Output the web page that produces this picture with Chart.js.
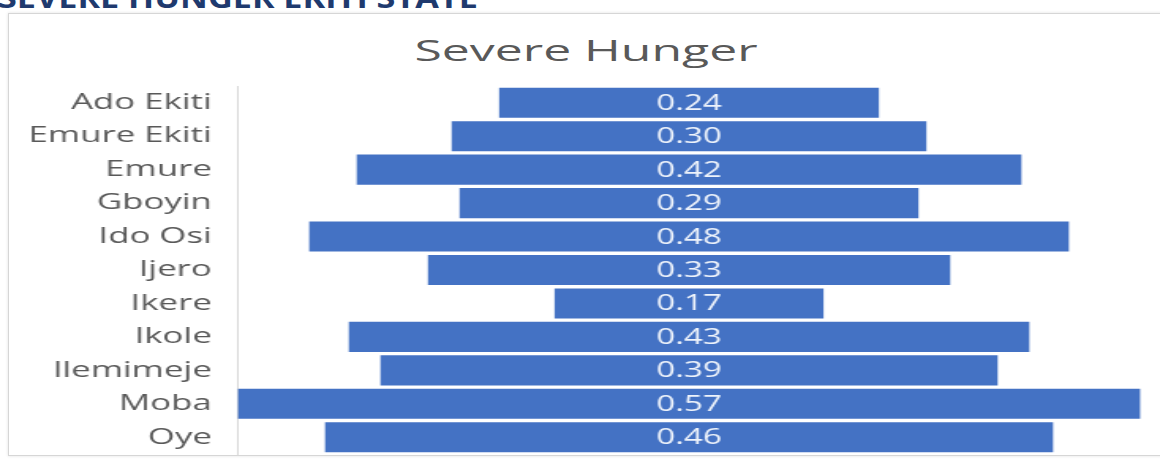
<!DOCTYPE html>
<html><head><meta charset="utf-8">
<script src="https://cdn.jsdelivr.net/npm/chart.js@4.4.0/dist/chart.umd.min.js"></script>
<style>
html,body{margin:0;padding:0;background:#fff;width:1160px;height:461px;overflow:hidden;}
#head{position:absolute;left:-2px;top:-23px;font:bold 29px "Open Sans",sans-serif;color:#1f3a6e;white-space:nowrap;transform:scaleX(1.18);transform-origin:0 0;}
#box{position:absolute;left:8px;top:13px;width:1170px;height:441px;border:1px solid #d6d6d6;box-shadow:0 0 3px rgba(0,0,0,0.12);}
#title{position:absolute;left:586px;top:30px;font:29px "Open Sans",sans-serif;color:#595959;white-space:nowrap;transform:translateX(-50%) scaleX(1.72);}
#c{position:absolute;left:0;top:0;}
</style></head>
<body>
<div id="head">SEVERE HUNGER EKITI STATE</div>
<div id="box"></div>
<div id="title">Severe Hunger</div>
<canvas id="c" width="734" height="461" style="width:1160px;height:461px"></canvas>
<script>
const categories = ["Ado Ekiti","Emure Ekiti","Emure","Gboyin","Ido Osi","Ijero","Ikere","Ikole","Ilemimeje","Moba","Oye"];
const values = [0.24,0.30,0.42,0.29,0.48,0.33,0.17,0.43,0.39,0.57,0.46];
const valueLabels = ["0.24","0.30","0.42","0.29","0.48","0.33","0.17","0.43","0.39","0.57","0.46"];

const labelPlugin = {
  id:'centerLabels',
  afterDatasetsDraw(chart){
    const ctx = chart.ctx;
    const meta = chart.getDatasetMeta(0);
    ctx.save();
    ctx.fillStyle = '#eef3fb';
    ctx.font = '21px "Open Sans", sans-serif';
    ctx.textAlign = 'center';
    ctx.textBaseline = 'middle';
    meta.data.forEach((bar,i)=>{
      const x = (bar.x + bar.base)/2;
      ctx.fillText(valueLabels[i], x, bar.y+1);
    });
    ctx.restore();
  }
};

const half = Math.max(...values)/2;
new Chart(document.getElementById('c'),{
  type:'bar',
  data:{
    labels:categories,
    datasets:[{
      data: values.map(v=>[-v/2, v/2]),
      backgroundColor:'#4472c4',
      borderWidth:0,
      barPercentage:0.9,
      categoryPercentage:1.0
    }]
  },
  options:{
    indexAxis:'y',
    responsive:false,
    animation:false,
    devicePixelRatio:1,
    layout:{padding:{left:0,right:12,top:86,bottom:7}},
    plugins:{legend:{display:false},tooltip:{enabled:false}},
    scales:{
      x:{display:false,min:-half-0.0006,max:half+0.0006},
      y:{
        afterFit(s){ s.width = 150; s.paddingTop = 0; s.paddingBottom = 0; },
        grid:{display:true,drawOnChartArea:false,drawTicks:false,color:'rgba(0,0,0,0)'},
        border:{display:true,color:'#d9d9d9',width:1},
        ticks:{color:'#595959',font:{family:'"Open Sans", sans-serif',size:22},padding:16}
      }
    }
  },
  plugins:[labelPlugin]
});
</script>
</body></html>
